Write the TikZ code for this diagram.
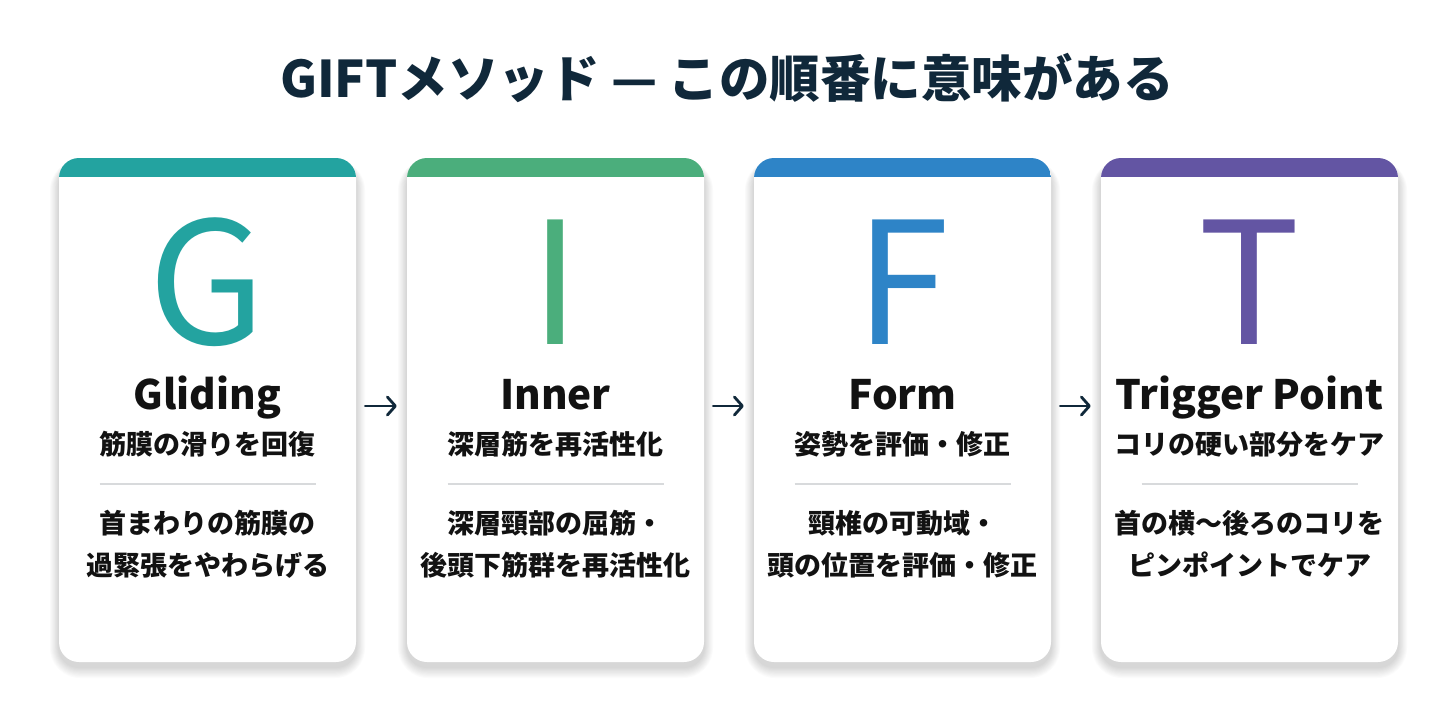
\documentclass[tikz,border=0pt]{standalone}
\usepackage{fontspec}
\setmainfont{Noto Sans CJK JP}
\usetikzlibrary{arrows.meta}
\definecolor{cG}{HTML}{23A3A0}
\definecolor{cI}{HTML}{4BAE7C}
\definecolor{cF}{HTML}{2E84C7}
\definecolor{cT}{HTML}{6355A3}
\definecolor{navy}{HTML}{10283A}
\definecolor{ink}{HTML}{121212}
\definecolor{sep}{HTML}{D8DADC}
\tikzset{
  cardbox/.style={rectangle, minimum width=297pt, minimum height=504pt, rounded corners=20pt, fill=white, inner sep=0pt},
  bigletter/.style={anchor=base, font=\fontsize{170}{170}\selectfont},
  nametext/.style={anchor=base, text=ink, font=\fontsize{40.5}{40.5}\selectfont\bfseries},
  jptext/.style={text=ink, font=\fontsize{27}{27}\selectfont\bfseries, text height=23.76pt, text depth=3.24pt, inner sep=0pt},
  sepline/.style={draw=sep, line width=1.2pt},
  flowarrow/.style={draw=navy, line width=2.8pt, line cap=round, -{Straight Barb[length=8pt,width=18pt,line width=2.8pt,round]}},
  titletext/.style={text=navy, font=\fontsize{50.5}{50.5}\selectfont\bfseries, text height=44.44pt, text depth=6.06pt, inner sep=0pt}
}
\begin{document}
\begin{tikzpicture}[x=1pt,y=-1pt]
\useasboundingbox (0,0) rectangle (1456,720);
\fill[white] (0,0) rectangle (1456,720);
\node[titletext] (title) at (727,78) {GIFTメソッド — この順番に意味がある};
\foreach \i/\cx/\col/\L/\nm/\sub/\da/\db in {
  1/207.5/cG/G/Gliding/筋膜の滑りを回復/首まわりの筋膜の/過緊張をやわらげる,
  2/555.5/cI/I/Inner/深層筋を再活性化/深層頸部の屈筋・/後頭下筋群を再活性化,
  3/902.5/cF/F/Form/姿勢を評価・修正/頸椎の可動域・/頭の位置を評価・修正,
  4/1249.5/cT/T/Trigger Point/コリの硬い部分をケア/首の横〜後ろのコリを/ピンポイントでケア}{
  \foreach \s in {1,...,10}{
    \fill[black, opacity=0.014, rounded corners={20pt+\s pt}]
      (\cx-148.5-\s*0.9, 158+7-\s*0.5) rectangle (\cx+148.5+\s*0.9, 662+5+\s*1.1);
  }
  \node[cardbox, path picture={\fill[\col, sharp corners] (path picture bounding box.north west) rectangle ([yshift=-19pt]path picture bounding box.north east);}] (c\i) at (\cx,410) {};
  \node[bigletter, text=\col] (L\i) at (\cx,344) {\L};
  \node[nametext] (n\i) at (\cx,409) {\nm};
  \node[jptext] (s\i) at (\cx,444) {\sub};
  \coordinate (sa\i) at (\cx-108,484);
  \coordinate (sb\i) at (\cx+108,484);
  \draw[sepline] (sa\i) -- (sb\i);
  \node[jptext] (d\i a) at (\cx,523) {\da};
  \node[jptext] (d\i b) at (\cx,565) {\db};
}
\foreach \a/\b in {1/2,2/3,3/4}{
  \draw[flowarrow] ([xshift=9pt,yshift=4pt]c\a.east) -- ([xshift=-10pt,yshift=4pt]c\b.west);
}
\end{tikzpicture}
\end{document}
